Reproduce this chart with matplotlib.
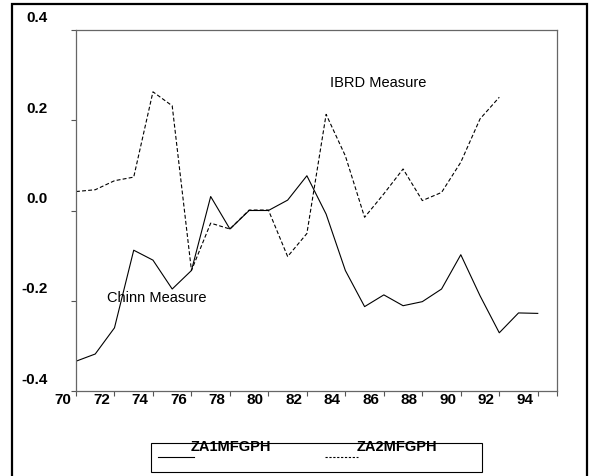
import matplotlib
matplotlib.use("Agg")
import matplotlib.pyplot as plt
from matplotlib.patches import Rectangle
from matplotlib.lines import Line2D
from matplotlib.transforms import ScaledTranslation

plt.rcParams['font.family'] = ['Liberation Sans', 'DejaVu Sans']

years1 = list(range(70, 95))
za1 = [-0.334, -0.318, -0.260, -0.088, -0.110, -0.174, -0.133, 0.031, -0.041, 0.000,
       0.000, 0.023, 0.077, -0.008, -0.133, -0.213, -0.187, -0.211, -0.202, -0.174,
       -0.098, -0.189, -0.271, -0.227, -0.228]
years2 = list(range(70, 93))
za2 = [0.042, 0.046, 0.066, 0.074, 0.263, 0.232, -0.133, -0.028, -0.041, 0.001,
       0.001, -0.102, -0.051, 0.213, 0.121, -0.015, 0.037, 0.092, 0.022, 0.040,
       0.107, 0.203, 0.251]
names = ["ZA1MFGPH", "ZA2MFGPH"]
xticks = list(range(70, 96, 2)) + [95]
xlabels = [str(t) for t in range(70, 96, 2)] + [""]
yticks = [-0.4, -0.2, 0.0, 0.2, 0.4]
ylabels = ["-0.4", "-0.2", "0.0", "0.2", "0.4"]

W, H = 591, 477
fig = plt.figure(figsize=(W / 100, H / 100), dpi=100)
ax = fig.add_axes([76 / W, 1 - 392 / H, (557 - 76) / W, (392 - 31) / H])

ax.plot(years1, za1, color="black", lw=0.8)
ax.plot(years2, za2, color="black", lw=0.8, dashes=(3.5, 2))

ax.set_xlim(70, 95)
ax.set_ylim(-0.4, 0.4)
ax.set_xticks(xticks)
ax.set_xticklabels(xlabels, fontsize=11, fontweight="bold")
ax.set_yticks(yticks)
ax.set_yticklabels(ylabels, fontsize=11, fontweight="bold")
ax.tick_params(axis="x", direction="out", length=3.6, width=0.8, pad=0, color="#555555")
ax.tick_params(axis="y", direction="out", length=3.6, width=0.8, pad=16.5, color="#555555")
for s in ax.spines.values():
    s.set_color("#666666")
    s.set_linewidth(0.9)

for lab in ax.get_xticklabels():
    lab.set_transform(lab.get_transform() + ScaledTranslation(-0.13, 0.04, fig.dpi_scale_trans))
for lab in ax.get_yticklabels():
    lab.set_transform(lab.get_transform() + ScaledTranslation(0, 0.14, fig.dpi_scale_trans))

ax.text(85.7, 0.285, "IBRD Measure", fontsize=10.5, ha="center", va="center")
ax.text(74.2, -0.192, "Chinn Measure", fontsize=10.5, ha="center", va="center")

# outer frame
fig.patches.append(Rectangle((12 / W, -0.02), (587 - 12) / W, 1.02 - 5 / H,
                             transform=fig.transFigure, fill=False, lw=1.6,
                             edgecolor="black"))

# legend box
fig.patches.append(Rectangle((151 / W, 1 - 473 / H), (482 - 151) / W, (473 - 444) / H,
                             transform=fig.transFigure, fill=False, lw=0.8,
                             edgecolor="black"))
fig.lines.append(Line2D([158 / W, 194 / W], [1 - 458 / H] * 2, transform=fig.transFigure,
                        color="black", lw=0.8))
fig.lines.append(Line2D([325 / W, 358 / W], [1 - 458 / H] * 2, transform=fig.transFigure,
                        color="black", lw=0.8, dashes=(2, 1.5)))
fig.text(191 / W, 1 - 447 / H, names[0], fontsize=10.5, fontweight="bold", ha="left", va="center")
fig.text(357 / W, 1 - 447 / H, names[1], fontsize=10.5, fontweight="bold", ha="left", va="center")

fig.savefig("out.png", dpi=100)
